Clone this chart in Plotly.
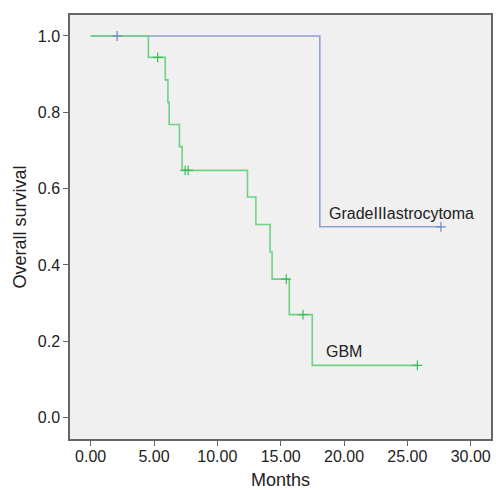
import plotly.graph_objects as go

# Kaplan-Meier step data (months, survival)
gbm_t = [0, 4.56, 5.89, 6.10, 6.20, 7.01, 7.22, 12.38, 13.04, 14.16, 14.32, 15.68, 17.49, 25.79]
gbm_s = [1.0, 0.944, 0.885, 0.826, 0.768, 0.710, 0.648, 0.578, 0.506, 0.434, 0.363, 0.270, 0.137, 0.137]
gbm_cens = [5.29, 7.46, 7.70, 15.44, 16.76, 25.79]

g3_t = [0, 18.09, 27.65]
g3_s = [1.0, 0.5, 0.5]
g3_cens = [2.09, 27.65]

x_ticks = [0, 5, 10, 15, 20, 25, 30]
y_ticks = [0.0, 0.2, 0.4, 0.6, 0.8, 1.0]

green = "#6DD383"
blue = "#8E9FD8"
FONT = "Liberation Sans, Arial, Helvetica"


def surv_at(ts, ss, t):
    v = ss[0]
    for ti, si in zip(ts, ss):
        if ti <= t:
            v = si
    return v


fig = go.Figure()
fig.add_trace(go.Scatter(x=g3_t, y=g3_s, mode="lines", line=dict(shape="hv", color=blue, width=1.6),
                         showlegend=False, hoverinfo="skip"))
fig.add_trace(go.Scatter(x=gbm_t, y=gbm_s, mode="lines", line=dict(shape="hv", color=green, width=1.6),
                         showlegend=False, hoverinfo="skip"))
fig.add_trace(go.Scatter(x=g3_cens, y=[surv_at(g3_t, g3_s, t) for t in g3_cens], mode="markers",
                         marker=dict(symbol="cross-thin", size=7, line=dict(color="#6F84CC", width=1.2)),
                         showlegend=False))
fig.add_trace(go.Scatter(x=gbm_cens, y=[surv_at(gbm_t, gbm_s, t) for t in gbm_cens], mode="markers",
                         marker=dict(symbol="cross-thin", size=7, line=dict(color="#3DBB5C", width=1.2)),
                         showlegend=False))

fig.add_annotation(x=18.64, y=0.536, text="GradeIIIastrocytoma", showarrow=False, xanchor="left",
                   font=dict(size=16, color="#222222", family=FONT))
fig.add_annotation(x=18.4, y=0.172, text="GBM", showarrow=False, xanchor="left",
                   font=dict(size=16, color="#222222", family=FONT))

axis_common = dict(showline=True, mirror=True, linecolor="#666666", linewidth=1.5, ticks="outside",
                   ticklen=5, tickcolor="#666666", tickwidth=1.2, showgrid=False, zeroline=False,
                   tickfont=dict(size=16, color="#222222", family=FONT))

fig.update_layout(
    width=496, height=490,
    margin=dict(l=70, r=3, t=15, b=51),
    paper_bgcolor="white", plot_bgcolor="#F0F0F0",
    xaxis=dict(range=[-1.63, 31.6], tickvals=x_ticks, ticktext=[f"{v:.2f}" for v in x_ticks],
               ticklabelstandoff=-3,
               title=dict(text="Months", standoff=9,
                          font=dict(size=18, color="#222222", family=FONT)),
               **axis_common),
    yaxis=dict(range=[-0.056, 1.055], tickvals=y_ticks, ticktext=[f"{v:.1f}" for v in y_ticks],
               title=dict(text="Overall survival", standoff=6,
                          font=dict(size=18, color="#222222", family=FONT)),
               **axis_common),
)

fig.write_html("out.html", post_script="document.body.style.margin='0';",
               config={"displayModeBar": False})
